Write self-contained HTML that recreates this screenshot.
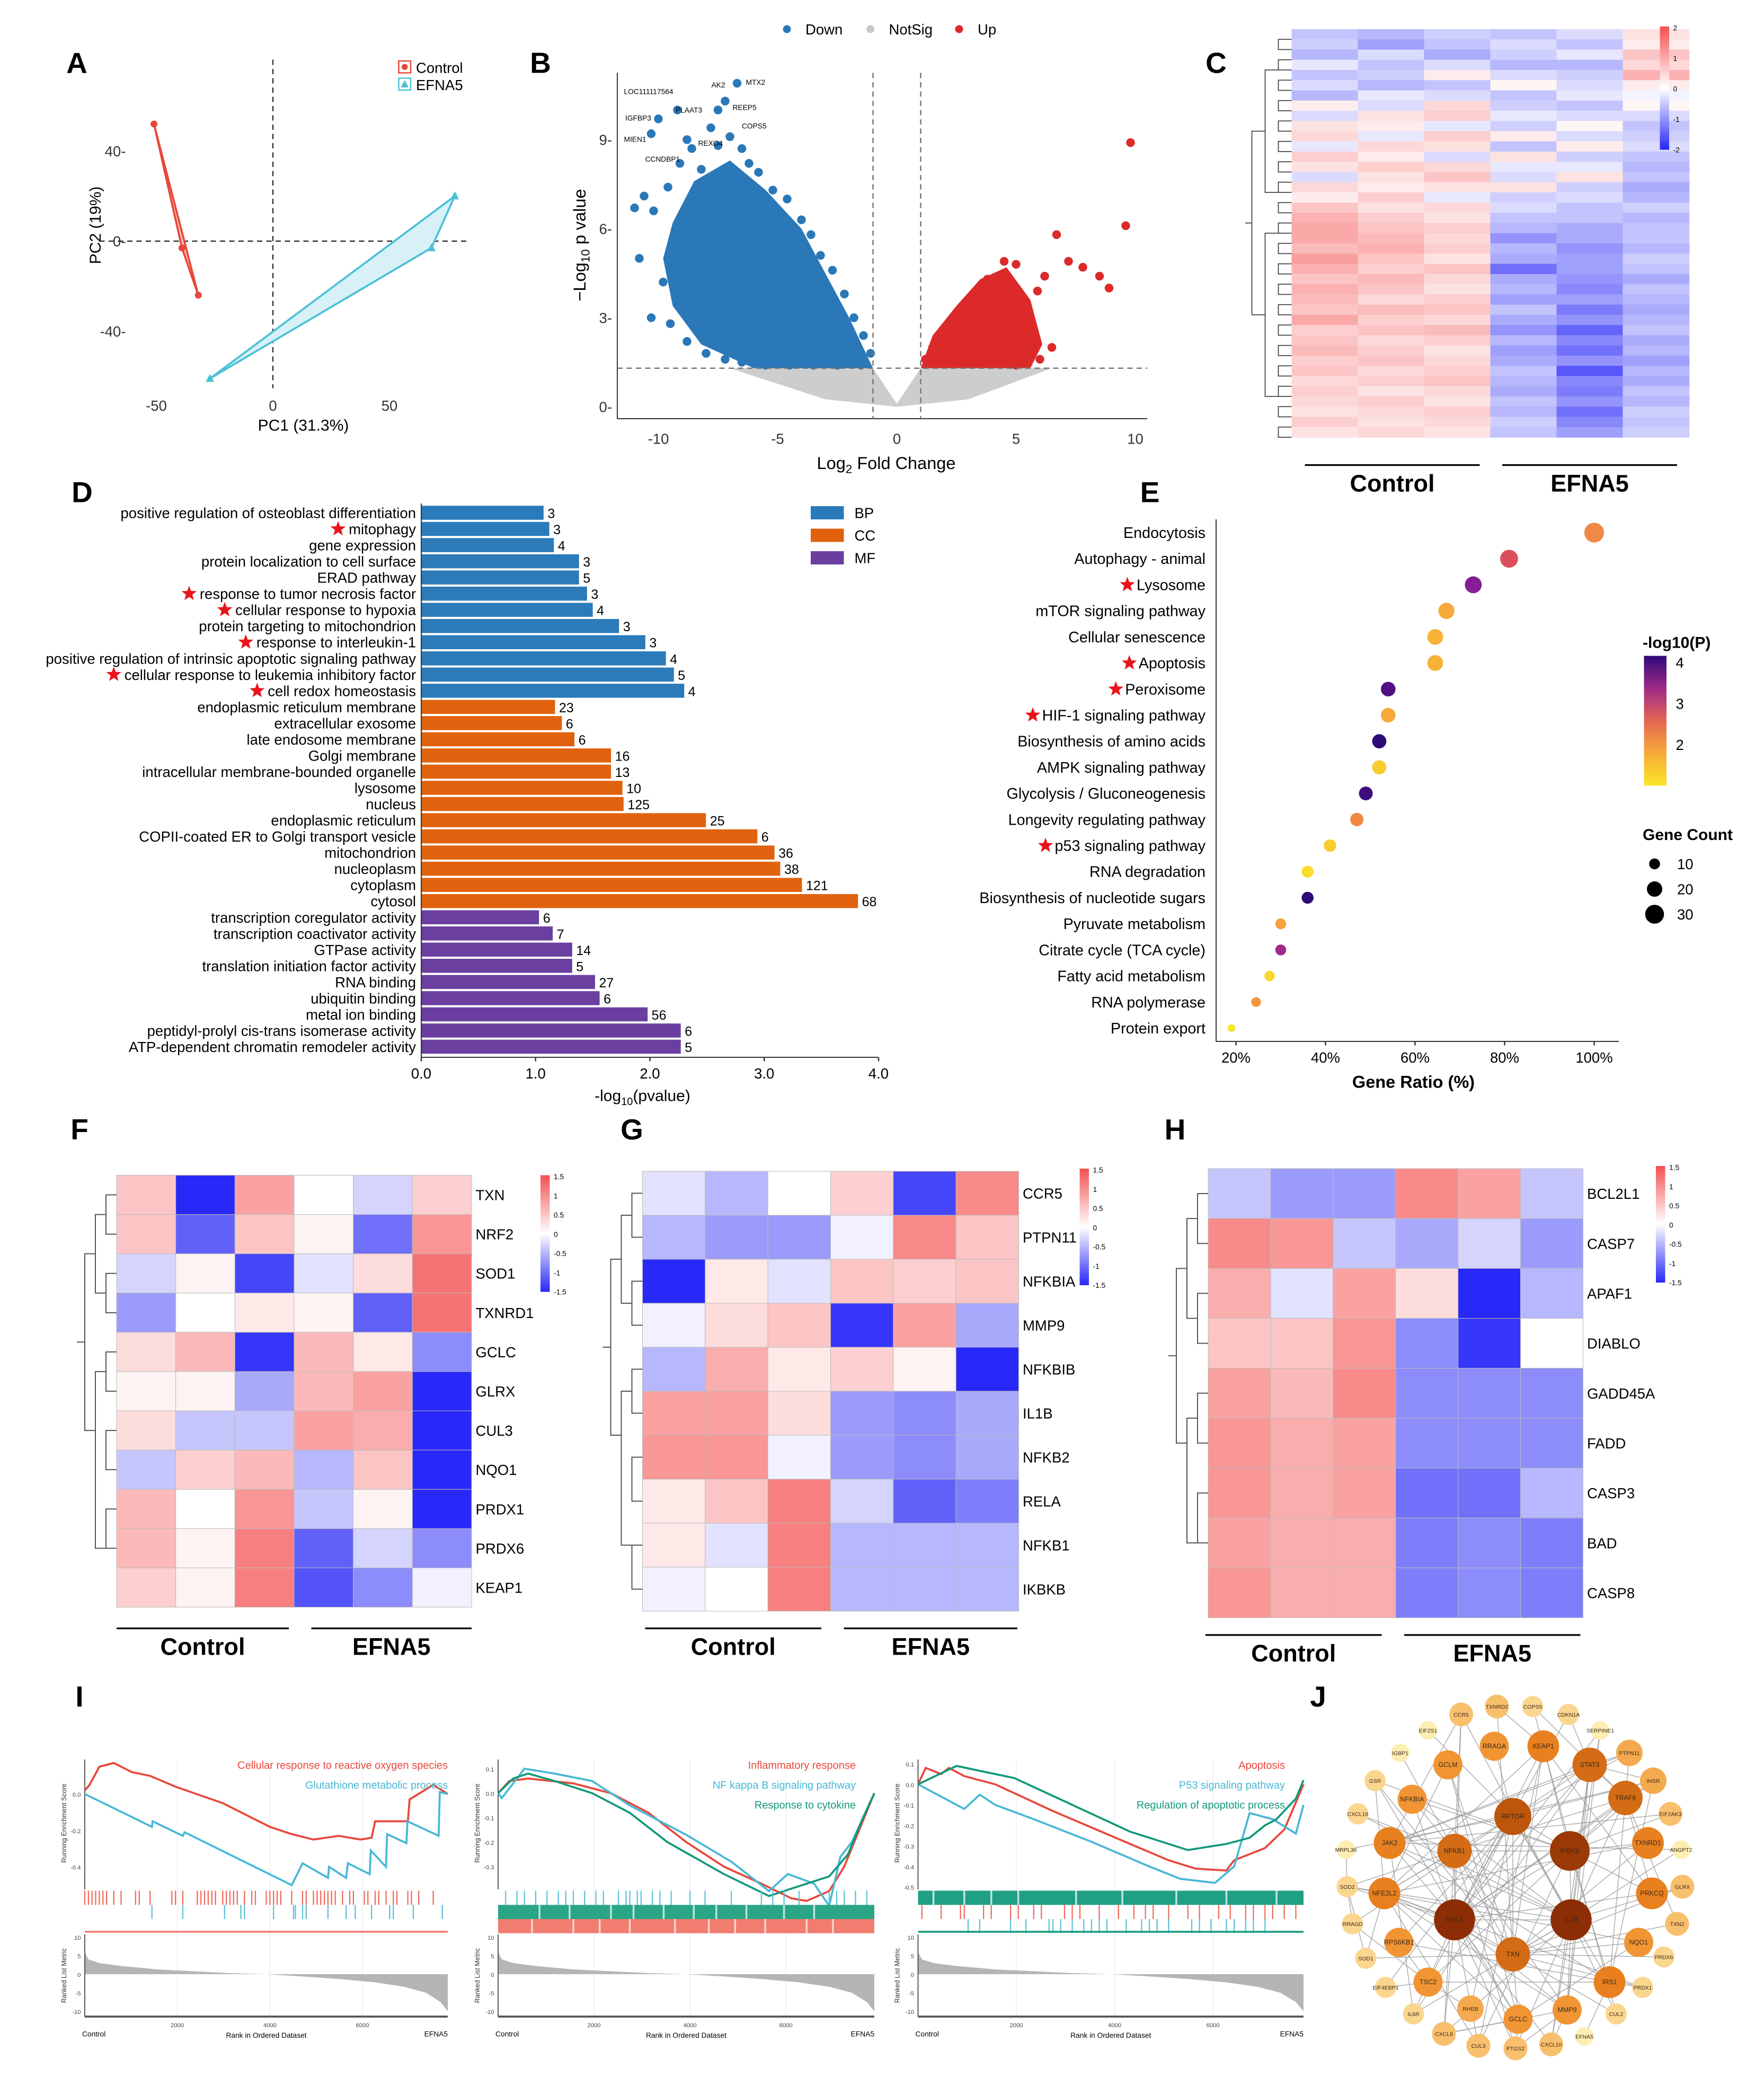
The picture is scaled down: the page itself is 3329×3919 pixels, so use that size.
<!DOCTYPE html>
<html><head><meta charset="utf-8"><title>EFNA5 figure</title>
<style>html,body{margin:0;padding:0;background:#fff}svg{display:block}text{font-family:"Liberation Sans",Arial,sans-serif}</style></head>
<body>
<svg id="fig" xmlns="http://www.w3.org/2000/svg" width="3329" height="3919" viewBox="0 0 1331.6 1567.6"></svg>
<script>
// ---------- DATA ----------
const pcaControl=[[-51,52],[-39,-3],[-32,-24]];
const pcaEfna5=[[78,20],[68,-3],[-27,-61]];
const volDown=[[-10.3,9.2],[-9.2,10],[-10,9.7],[-7.2,10.3],[-6.7,10.9],[-7.5,10.0],[-7.8,9.4],[-8.8,9.0],[-11,6.7],[-10.6,7.1],[-10.2,6.6],[-9.6,7.4],[-9.1,8.2],[-8.6,8.7],[-8.2,8.0],[-7.5,8.8],[-7.0,9.1],[-6.5,8.7],[-6.2,8.2],[-5.8,7.9],[-5.2,7.3],[-4.6,7.0],[-4.0,6.3],[-3.6,5.8],[-3.2,5.1],[-2.7,4.6],[-2.2,3.8],[-1.8,3.0],[-1.4,2.4],[-1.1,1.8],[-10.3,3.0],[-10.8,5.0],[-9.8,4.2],[-9.5,2.8],[-8.8,2.2],[-8.0,1.8],[-7.2,1.6],[-6.5,1.5],[-5.5,1.4],[-4.5,1.4],[-3.5,1.4],[-2.5,1.4],[-1.5,1.4],[-9.0,5.5],[-8.0,6.5],[-7.0,7.0],[-6.0,6.0],[-5.0,5.0],[-4.0,3.5],[-3.0,2.5],[-7.5,4.0],[-6.5,3.0],[-8.5,3.5],[-5.5,2.5]];
const volDownCloud=[[-1,1.3],[-2,3],[-3,4.5],[-4,6],[-5.5,7.3],[-7,8.3],[-8.5,7.6],[-9.4,6.2],[-9.8,5],[-9.4,3.4],[-8.2,2.1],[-6,1.3]];
const volUp=[[9.8,8.9],[9.6,6.1],[6.7,5.8],[7.8,4.7],[8.5,4.4],[8.9,4.0],[7.2,4.9],[6.2,4.4],[5.9,3.9],[5.0,4.8],[4.5,4.9],[3.8,4.3],[3.0,3.6],[2.5,3.0],[2.0,2.4],[1.5,2.0],[1.2,1.6],[6.5,2.0],[6.0,1.6],[5.5,3.0],[4.0,2.0],[3.0,1.5],[5.0,1.4]];
const volUpCloud=[[1,1.3],[1.5,2.4],[2.5,3.4],[3.5,4.3],[4.6,4.7],[5.6,3.6],[6.1,2.1],[5.6,1.3]];
const volNs=[[-7,1.3],[-1,1.3],[0,0.1],[1,1.3],[6.5,1.3],[3,0.25],[0,0],[-3,0.25]];
const volLabels=["LOC111117564","AK2","MTX2","IGFBP3","PLAAT3","REEP5","COPS5","MIEN1","REXO4","CCNDBP1"];
const heatC=[[-0.5,-0.6,-0.4,-0.5,-0.3,0.3],[-0.4,-0.8,-0.5,-0.3,-0.5,0.2],[-0.6,-0.3,-0.7,-0.4,-0.2,0.6],[-0.2,-0.5,-0.3,-0.6,-0.6,0.4],[-0.5,-0.4,0.2,-0.3,-0.4,0.8],[-0.3,-0.6,-0.5,0.1,-0.3,0.2],[-0.6,-0.2,-0.3,-0.5,-0.2,-0.1],[0.2,-0.3,0.4,-0.4,-0.5,0.1],[-0.3,0.3,0.5,-0.2,-0.3,-0.3],[0.3,0.2,-0.2,-0.4,0.1,-0.5],[0.4,-0.2,0.5,0.2,-0.3,-0.4],[-0.2,0.4,0.3,-0.5,0.2,-0.3],[0.5,0.2,-0.3,0.3,-0.4,-0.5],[0.3,0.5,0.4,-0.2,-0.2,-0.6],[-0.3,0.3,0.6,-0.3,0.3,-0.5],[0.4,0.2,0.3,0.3,-0.4,-0.7],[0.2,0.5,-0.2,-0.4,-0.3,-0.6],[0.6,0.3,0.4,-0.3,-0.5,-0.4],[0.8,0.5,0.3,-0.5,-0.5,-0.6],[0.9,0.6,0.5,-0.6,-0.7,-0.5],[0.9,0.7,0.4,-0.9,-0.7,-0.5],[0.7,0.8,0.5,-0.6,-0.9,-0.6],[1.0,0.6,0.3,-0.7,-0.8,-0.4],[0.8,0.5,0.6,-1.2,-0.8,-0.5],[0.6,0.7,0.4,-0.7,-0.9,-0.7],[0.8,0.6,0.3,-0.6,-1.0,-0.5],[0.7,0.4,0.5,-0.8,-0.8,-0.6],[0.6,0.7,0.6,-0.5,-1.1,-0.7],[0.9,0.5,0.4,-0.7,-0.9,-0.6],[0.5,0.6,0.7,-0.9,-1.3,-0.5],[0.6,0.4,0.5,-0.6,-1.0,-0.7],[0.7,0.5,0.3,-0.8,-1.2,-0.6],[0.5,0.6,0.4,-0.7,-0.9,-0.8],[0.6,0.4,0.5,-0.5,-1.4,-0.6],[0.4,0.5,0.6,-0.6,-1.0,-0.7],[0.5,0.3,0.4,-0.7,-1.1,-0.5],[0.4,0.5,0.3,-0.5,-0.9,-0.6],[0.3,0.4,0.5,-0.6,-1.2,-0.4],[0.5,0.3,0.4,-0.4,-1.0,-0.5],[0.3,0.4,0.3,-0.5,-0.8,-0.4]];
const goTerms=["positive regulation of osteoblast differentiation","mitophagy","gene expression","protein localization to cell surface","ERAD pathway","response to tumor necrosis factor","cellular response to hypoxia","protein targeting to mitochondrion","response to interleukin-1","positive regulation of intrinsic apoptotic signaling pathway","cellular response to leukemia inhibitory factor","cell redox homeostasis","endoplasmic reticulum membrane","extracellular exosome","late endosome membrane","Golgi membrane","intracellular membrane-bounded organelle","lysosome","nucleus","endoplasmic reticulum","COPII-coated ER to Golgi transport vesicle","mitochondrion","nucleoplasm","cytoplasm","cytosol","transcription coregulator activity","transcription coactivator activity","GTPase activity","translation initiation factor activity","RNA binding","ubiquitin binding","metal ion binding","peptidyl-prolyl cis-trans isomerase activity","ATP-dependent chromatin remodeler activity"];
const goValues=[1.07,1.12,1.16,1.38,1.38,1.45,1.5,1.73,1.96,2.14,2.21,2.3,1.17,1.23,1.34,1.66,1.66,1.76,1.77,2.49,2.94,3.09,3.14,3.33,3.82,1.03,1.15,1.32,1.32,1.52,1.56,1.98,2.27,2.27];
const goCounts=[3,3,4,3,5,3,4,3,3,4,5,4,23,6,6,16,13,10,125,25,6,36,38,121,68,6,7,14,5,27,6,56,6,5];
const goCategory=["BP","BP","BP","BP","BP","BP","BP","BP","BP","BP","BP","BP","CC","CC","CC","CC","CC","CC","CC","CC","CC","CC","CC","CC","CC","MF","MF","MF","MF","MF","MF","MF","MF","MF"];
const goStarred=[1,5,6,8,10,11];
const keggTerms=["Endocytosis","Autophagy - animal","Lysosome","mTOR signaling pathway","Cellular senescence","Apoptosis","Peroxisome","HIF-1 signaling pathway","Biosynthesis of amino acids","AMPK signaling pathway","Glycolysis / Gluconeogenesis","Longevity regulating pathway","p53 signaling pathway","RNA degradation","Biosynthesis of nucleotide sugars","Pyruvate metabolism","Citrate cycle (TCA cycle)","Fatty acid metabolism","RNA polymerase","Protein export"];
const keggRatio=[100,81,73,67,64.5,64.5,54,54,52,52,49,47,41,36,36,30,30,27.5,24.5,19];
const keggLogP=[2.3,2.8,3.5,2.0,1.9,1.9,3.8,2.0,4.0,1.6,3.9,2.3,1.6,1.4,4.0,2.1,3.3,1.5,2.2,1.3];
const keggCount=[33,27,24,22,21,21,18,18,17,17,16,15,13,12,12,10,10,9,8,5];
const keggStarred=[2,5,6,7,12];
const genesF=["TXN","NRF2","SOD1","TXNRD1","GCLC","GLRX","CUL3","NQO1","PRDX1","PRDX6","KEAP1"];
const heatF=[[0.5,-1.5,0.8,0,-0.3,0.4],[0.5,-1.1,0.5,0.1,-1.0,0.9],[-0.3,0.1,-1.3,-0.2,0.3,1.2],[-0.7,0,0.2,0.1,-1.1,1.2],[0.3,0.6,-1.4,0.6,0.2,-0.8],[0.1,0.1,-0.6,0.6,0.8,-1.5],[0.3,-0.4,-0.4,0.8,0.7,-1.5],[-0.4,0.4,0.6,-0.5,0.5,-1.5],[0.6,0,0.9,-0.4,0.1,-1.5],[0.6,0.1,1.1,-1.1,-0.3,-0.8],[0.4,0.1,1.1,-1.2,-0.8,-0.1]];
const genesG=["CCR5","PTPN11","NFKBIA","MMP9","NFKBIB","IL1B","NFKB2","RELA","NFKB1","IKBKB"];
const heatG=[[-0.2,-0.5,0,0.4,-1.3,1.0],[-0.5,-0.7,-0.7,-0.1,1.0,0.5],[-1.5,0.2,-0.2,0.5,0.4,0.5],[-0.1,0.3,0.5,-1.4,0.8,-0.6],[-0.5,0.7,0.2,0.4,0.1,-1.5],[0.8,0.8,0.3,-0.7,-0.8,-0.6],[0.9,0.9,-0.1,-0.7,-0.8,-0.6],[0.2,0.5,1.1,-0.3,-1.1,-0.9],[0.2,-0.2,1.1,-0.5,-0.5,-0.5],[-0.1,0,1.1,-0.5,-0.5,-0.5]];
const genesH=["BCL2L1","CASP7","APAF1","DIABLO","GADD45A","FADD","CASP3","BAD","CASP8"];
const heatH=[[-0.4,-0.7,-0.7,1.0,0.8,-0.4],[1.0,0.9,-0.4,-0.6,-0.3,-0.7],[0.7,-0.2,0.8,0.3,-1.5,-0.5],[0.5,0.5,0.9,-0.8,-1.4,0],[0.8,0.6,1.0,-0.8,-0.8,-0.8],[0.9,0.7,0.8,-0.8,-0.8,-0.8],[0.9,0.7,0.8,-1.0,-1.0,-0.5],[0.8,0.7,0.7,-0.9,-0.8,-0.9],[0.9,0.7,0.7,-0.9,-0.8,-0.9]];
// GSEA: [fraction of ranked list, running ES]
const gsea1Red=[[0,0.02],[0.013,0.05],[0.04,0.15],[0.08,0.17],[0.13,0.12],[0.18,0.1],[0.25,0.04],[0.38,-0.05],[0.51,-0.18],[0.57,-0.22],[0.63,-0.25],[0.7,-0.23],[0.76,-0.25],[0.79,-0.24],[0.8,-0.15],[0.89,-0.15],[0.895,-0.03],[0.96,0.05],[1,0.0]];
const gsea1Blue=[[0,0],[0.185,-0.18],[0.187,-0.15],[0.27,-0.23],[0.275,-0.21],[0.57,-0.5],[0.6,-0.38],[0.67,-0.46],[0.673,-0.4],[0.72,-0.46],[0.725,-0.38],[0.785,-0.44],[0.788,-0.31],[0.83,-0.4],[0.833,-0.22],[0.886,-0.27],[0.889,-0.15],[0.975,-0.23],[0.978,0.01],[1,0.0]];
const gsea2Red=[[0,0],[0.03,0.05],[0.08,0.06],[0.2,0.04],[0.3,0.0],[0.4,-0.08],[0.5,-0.2],[0.6,-0.3],[0.7,-0.37],[0.78,-0.43],[0.82,-0.44],[0.88,-0.4],[0.92,-0.3],[0.96,-0.15],[1,0.0]];
const gsea2Blue=[[0,0],[0.01,-0.02],[0.07,0.1],[0.15,0.08],[0.25,0.05],[0.35,-0.05],[0.5,-0.17],[0.62,-0.28],[0.72,-0.4],[0.77,-0.33],[0.84,-0.37],[0.88,-0.46],[0.91,-0.26],[0.94,-0.2],[1,0.0]];
const gsea2Green=[[0,0],[0.04,0.06],[0.08,0.08],[0.15,0.05],[0.25,0.0],[0.35,-0.08],[0.45,-0.2],[0.6,-0.33],[0.72,-0.42],[0.78,-0.39],[0.88,-0.34],[0.93,-0.25],[0.97,-0.1],[1,0.0]];
const gsea3Red=[[0,0],[0.02,0.08],[0.06,0.05],[0.08,0.08],[0.12,0.04],[0.2,0.0],[0.35,-0.13],[0.5,-0.25],[0.65,-0.37],[0.72,-0.41],[0.8,-0.42],[0.82,-0.37],[0.9,-0.31],[0.95,-0.22],[1,0.0]];
const gsea3Blue=[[0,0],[0.12,-0.12],[0.16,-0.05],[0.2,-0.1],[0.3,-0.17],[0.45,-0.28],[0.6,-0.4],[0.68,-0.46],[0.77,-0.48],[0.82,-0.4],[0.86,-0.14],[0.92,-0.17],[0.98,-0.24],[1,-0.1]];
const gsea3Green=[[0,0],[0.1,0.09],[0.15,0.07],[0.25,0.03],[0.4,-0.1],[0.55,-0.23],[0.7,-0.32],[0.8,-0.29],[0.86,-0.26],[0.9,-0.2],[0.93,-0.17],[0.98,-0.07],[1,0.02]];
const hits1Red=[0.0,0.01,0.02,0.03,0.04,0.05,0.06,0.08,0.1,0.14,0.15,0.18,0.24,0.25,0.27,0.31,0.32,0.33,0.34,0.35,0.36,0.38,0.39,0.4,0.41,0.42,0.44,0.46,0.47,0.5,0.51,0.52,0.53,0.54,0.57,0.6,0.61,0.63,0.64,0.65,0.66,0.67,0.68,0.69,0.71,0.73,0.74,0.77,0.78,0.8,0.81,0.83,0.85,0.86,0.89,0.9,0.92,0.96];
const hits1Blue=[0.185,0.27,0.385,0.43,0.44,0.52,0.575,0.58,0.6,0.61,0.67,0.72,0.745,0.79,0.84,0.85,0.905,0.985];
const hits2Blue=[0.02,0.05,0.07,0.1,0.13,0.16,0.18,0.2,0.23,0.26,0.28,0.32,0.34,0.35,0.37,0.38,0.41,0.43,0.46,0.51,0.55,0.62,0.7,0.73,0.76,0.8,0.88,0.9,0.92,0.95,0.98];
const gaps2Green=[0.11,0.19,0.3,0.36,0.44,0.52,0.58,0.66,0.76,0.84];
const gaps2Red=[0.09,0.2,0.27,0.35,0.47,0.56,0.63,0.71,0.82,0.89];
const gaps3Green=[0.04,0.12,0.19,0.26,0.41,0.53,0.67,0.8,0.93];
const hits3Red=[0.01,0.06,0.11,0.12,0.17,0.19,0.24,0.26,0.3,0.32,0.38,0.4,0.42,0.47,0.52,0.56,0.59,0.61,0.65,0.7,0.73,0.78,0.81,0.85,0.87,0.9,0.92,0.95,0.98];
const hits3Blue=[0.13,0.16,0.24,0.28,0.34,0.35,0.37,0.4,0.43,0.45,0.47,0.49,0.54,0.58,0.6,0.62,0.65,0.71,0.73,0.76,0.8,0.82,0.85,0.87,0.9];
const rankedMetric=[[0,6],[0.01,4],[0.04,3],[0.1,2.2],[0.2,1.3],[0.3,0.8],[0.4,0.3],[0.5,0],[0.6,-0.6],[0.7,-1.3],[0.8,-2.2],[0.88,-3.4],[0.94,-5],[0.98,-7.5],[1,-10]];
const netNodes=["CCR5","TXNRD2","COPS5","CDKN1A","SERPINE1","PTPN11","INSR","EIF2AK3","ANGPT2","GLRX","TXN2","PRDX6","PRDX1","CUL2","EFNA5","CXCL10","PTGS2","CUL3","CXCL8","IL6R","EIF4EBP1","SOD1","RRAGD","SOD2","MRPL36","CXCL16","GSR","IGBP1","EIF2S1","GCLM","RRAGA","KEAP1","STAT3","TRAF6","TXNRD1","PRKCQ","NQO1","IRS1","MMP9","GCLC","RHEB","TSC2","RPS6KB1","NFE2L2","JAK2","NFKBIA","RPTOR","NFKB1","IKBKB","RELA","IL1B","TXN"];
const netDegree=[9,9,8,8,7,10,10,9,7,9,9,8,8,8,7,9,9,9,9,8,8,8,8,8,7,8,8,7,7,11,11,12,13,13,12,12,11,12,11,11,10,11,11,12,12,11,14,13,15,15.5,15.5,13];
const netLayout=[[1103,1294],[1130,1288],[1157,1288],[1184,1294],[1208,1306],[1230,1323],[1248,1344],[1261,1369],[1269,1396],[1270,1424],[1266,1452],[1256,1477],[1240,1500],[1220,1520],[1196,1537],[1171,1543],[1144,1546],[1116,1544],[1090,1535],[1067,1520],[1046,1500],[1031,1478],[1021,1452],[1017,1424],[1016,1396],[1025,1369],[1038,1344],[1057,1323],[1078,1306],[1093,1332],[1128,1318],[1165,1318],[1200,1332],[1227,1357],[1244,1391],[1247,1429],[1237,1466],[1215,1496],[1183,1517],[1146,1524],[1110,1516],[1078,1496],[1056,1466],[1045,1429],[1049,1391],[1066,1358],[1142,1371],[1098,1397],[1185,1397],[1098,1449],[1186,1449],[1142,1475]];
const netEdges=[["RELA",["IL1B","IKBKB","NFKB1","NFKBIA","TXN","RPTOR","JAK2","NFE2L2","CCR5","CXCL8","CXCL10","PTGS2","MMP9","STAT3","TRAF6","KEAP1","SOD2","IL6R","CDKN1A","SERPINE1","PRKCQ","INSR","GCLC","CUL3"]],["IL1B",["IKBKB","NFKB1","TXN","MMP9","CXCL8","CXCL10","PTGS2","CCR5","SOD2","STAT3","TRAF6","JAK2","IL6R","SERPINE1","ANGPT2","CXCL16","GLRX","CUL2","NFKBIA","RPTOR"]],["IKBKB",["NFKB1","NFKBIA","TRAF6","PRKCQ","RPTOR","CUL3","KEAP1","EIF2AK3","TXNRD1","INSR","IRS1","TSC2","GSR"]],["RPTOR",["RRAGA","RRAGD","RHEB","TSC2","RPS6KB1","EIF4EBP1","IRS1","INSR","EIF2S1","MRPL36","STAT3","NFE2L2","TXN","PTPN11"]],["TXN",["TXNRD1","TXNRD2","TXN2","PRDX1","PRDX6","GLRX","GSR","NQO1","SOD1","NFE2L2","KEAP1","GCLC","GCLM","NFKB1","CUL2"]],["NFE2L2",["KEAP1","GCLC","GCLM","NQO1","SOD1","SOD2","GSR","TXNRD1","CUL3","PRDX1","NFKB1","MMP9"]],["JAK2",["STAT3","INSR","IRS1","PTPN11","IL6R","ANGPT2","CCR5","EIF2AK3"]],["NFKB1",["NFKBIA","CXCL8","PTGS2","MMP9","CCR5","CXCL16","TRAF6","SOD2","IGBP1"]],["STAT3",["PTPN11","IL6R","INSR","CDKN1A","MMP9","CXCL10","TRAF6"]],["KEAP1",["CUL3","CUL2","COPS5","TXNRD2","PRKCQ"]],["TSC2",["RHEB","RPS6KB1","IRS1","EIF4EBP1","RRAGD"]],["IRS1",["INSR","PTPN11","RPS6KB1","EFNA5","PRDX1"]],["GCLC",["GCLM","GSR","CXCL8","PTGS2","NQO1"]],["MMP9",["CXCL10","PTGS2","CXCL8","SERPINE1"]],["SOD2",["SOD1","MRPL36","RRAGD"]],["TRAF6",["PRKCQ","COPS5","TXN2"]]];

// ---------- HELPERS ----------
const NS="http://www.w3.org/2000/svg";
const svg=document.getElementById('fig');
function mk(tag,attrs,parent){const e=document.createElementNS(NS,tag);for(const k in attrs)e.setAttribute(k,attrs[k]);(parent||svg).appendChild(e);return e;}
function grp(name,parent){const g=mk('g',{},parent);return g;}
function tx(p,x,y,s,size,anchor,extra){const t=mk('text',Object.assign({x:x,y:y,'font-size':size,'text-anchor':anchor||'start'},extra||{}),p);t.textContent=s;return t;}
function lerp(a,b,t){return a+(b-a)*t;}
function textW(t,fallback){try{const w=t.getComputedTextLength();return w>0?w:fallback;}catch(e){return fallback;}}
function heatColor(v,m){const t=Math.max(-1,Math.min(1,v/m));if(t>=0)return `rgb(${Math.round(lerp(255,245,t))},${Math.round(lerp(255,80,t))},${Math.round(lerp(255,80,t))})`;const u=-t;return `rgb(${Math.round(lerp(255,40,u))},${Math.round(lerp(255,40,u))},${Math.round(lerp(255,248,u))})`;}
function star(p,cx,cy,r){let pts=[];for(let i=0;i<10;i++){const a=-Math.PI/2+i*Math.PI/5;const rr=i%2?r*0.42:r;pts.push((cx+rr*Math.cos(a)).toFixed(1)+','+(cy+rr*Math.sin(a)).toFixed(1));}const s=mk('polygon',{points:pts.join(' '),fill:'#e8141b'},p);return s;}
function letter(s,x,y){const t=tx(svg,x,y,s,22,'middle',{'font-weight':'bold'});}
['A',58,55,'B',408,55,'C',918,55,'D',62,379,'E',868,379,'F',60,860,'G',477,860,'H',887,860,'I',60,1288,'J',995,1288].reduce((a,v,i,arr)=>{if(i%3===0)letter(arr[i],arr[i+1],arr[i+2]);return a;},0);

// ---------- PANEL A: PCA ----------
(function(){
const g=grp('pca-plot');
const X=v=>206+v*1.76, Y=v=>182-v*1.7;
mk('line',{x1:X(0),y1:45,x2:X(0),y2:293,stroke:'#333','stroke-dasharray':'4,3','stroke-width':1},g);
mk('line',{x1:75,y1:Y(0),x2:355,y2:Y(0),stroke:'#333','stroke-dasharray':'4,3','stroke-width':1},g);
[40,0,-40].forEach(v=>{tx(g,95,Y(v)+4,v+'-',11,'end',{fill:'#333'});});
[-50,0,50].forEach(v=>{tx(g,X(v),310,v,11,'middle',{fill:'#333'});});
const xt=tx(g,229,325,'PC1 (31.3%)',12,'middle');
const yt=tx(g,0,0,'PC2 (19%)',12,'middle',{transform:'translate(76,170) rotate(-90)'});
const pc=mk('polygon',{points:pcaControl.map(p=>X(p[0])+','+Y(p[1])).join(' '),fill:'#f6c3bd',stroke:'#e8473b','stroke-width':1.5},g);

const pe=mk('polygon',{points:pcaEfna5.map(p=>X(p[0])+','+Y(p[1])).join(' '),fill:'#d7f1f7',stroke:'#4cc0d8','stroke-width':1.5},g);

pcaControl.forEach(p=>{const c=mk('circle',{cx:X(p[0]),cy:Y(p[1]),r:2.6,fill:'#e8473b'},g);});
pcaEfna5.forEach(p=>{const c=mk('polygon',{points:`${X(p[0])},${Y(p[1])-3.5} ${X(p[0])-3.2},${Y(p[1])+2.5} ${X(p[0])+3.2},${Y(p[1])+2.5}`,fill:'#4cc0d8'},g);});
const lg=grp('pca-legend',g);
mk('rect',{x:301,y:46,width:9,height:9,fill:'none',stroke:'#e8473b'},lg);mk('circle',{cx:305.5,cy:50.5,r:2.3,fill:'#e8473b'},lg);
mk('rect',{x:301,y:59,width:9,height:9,fill:'none',stroke:'#4cc0d8'},lg);mk('polygon',{points:'305.5,60.5 302.5,66 308.5,66',fill:'#4cc0d8'},lg);
tx(lg,314,55,'Control',11,'start');tx(lg,314,68,'EFNA5',11,'start');
})();

// ---------- PANEL B: Volcano ----------
(function(){
const g=grp('volcano-plot');
const X=v=>677+v*18, Y=v=>307-v*22.4;
const lg=grp('volcano-legend',g);
[['Down','#2a78b8',594],['NotSig','#c8c8c8',657],['Up','#dc2a2a',724]].forEach(d=>{mk('circle',{cx:d[2],cy:22,r:3,fill:d[1]},lg);tx(lg,d[2]+14,26,d[0],11,'start');});
mk('line',{x1:466,y1:55,x2:466,y2:316,stroke:'#333','stroke-width':0.8},g);
mk('line',{x1:466,y1:316,x2:866,y2:316,stroke:'#333','stroke-width':0.8},g);
mk('polygon',{points:volNs.map(p=>X(p[0])+','+Y(p[1])).join(' '),fill:'#cdcdcd'},g);
mk('polygon',{points:volDownCloud.map(p=>X(p[0])+','+Y(p[1])).join(' '),fill:'#2a78b8'},g);
mk('polygon',{points:volUpCloud.map(p=>X(p[0])+','+Y(p[1])).join(' '),fill:'#dc2a2a'},g);
volDown.forEach(p=>{const c=mk('circle',{cx:X(p[0]),cy:Y(p[1]),r:3.3,fill:'#2a78b8'},g);});
volUp.forEach(p=>{const c=mk('circle',{cx:X(p[0]),cy:Y(p[1]),r:3.3,fill:'#dc2a2a'},g);});
mk('line',{x1:X(-1),y1:55,x2:X(-1),y2:316,stroke:'#777','stroke-dasharray':'4,3'},g);
mk('line',{x1:X(1),y1:55,x2:X(1),y2:316,stroke:'#777','stroke-dasharray':'4,3'},g);
mk('line',{x1:466,y1:Y(1.3),x2:866,y2:Y(1.3),stroke:'#777','stroke-dasharray':'4,3'},g);
[0,3,6,9].forEach(v=>tx(g,462,Y(v)+4,v+'-',11,'end',{fill:'#333'}));
[-10,-5,0,5,10].forEach(v=>tx(g,X(v),335,v,11,'middle',{fill:'#333'}));
const xt=tx(g,669,354,'Log',13,'middle');const s1=mk('tspan',{'font-size':9,dy:3},xt);s1.textContent='2';const s2=mk('tspan',{dy:-3},xt);s2.textContent=' Fold Change';

const yt=tx(g,0,0,'−Log',13,'middle',{transform:'translate(442,185) rotate(-90)'});const s3=mk('tspan',{'font-size':9,dy:3},yt);s3.textContent='10';const s4=mk('tspan',{dy:-3},yt);s4.textContent=' p value';

const lp=[[471,71],[537,66],[563,64],[472,91],[510,85],[553,83],[560,97],[471,107],[527,110],[487,122]];
volLabels.forEach((s,i)=>{const t=tx(g,lp[i][0],lp[i][1],s,5.5,'start');});
})();

// ---------- PANEL C: heatmap ----------
(function(){
const g=grp('deg-heatmap');
const x0=975,y0=22,cw=50,rh=(330-22)/heatC.length;
heatC.forEach((row,i)=>row.forEach((v,j)=>{const r=mk('rect',{x:x0+j*cw,y:y0+i*rh,width:cw+0.3,height:rh+0.3,fill:heatColor(v,1.8)},g);}));
const d=grp('row-dendrogram',g);
let path='';for(let i=0;i<heatC.length;i+=2){const y=y0+(i+1)*rh;path+=`M975,${y}H965V${y+rh}H975 `;}
path+=`M965,${y0+rh*4}H955V${y0+rh*16}H965 M965,${y0+rh*20}H955V${y0+rh*36}H965 M955,${y0+rh*10}H945V${y0+rh*28}H955 M945,${y0+rh*19}H940`;
mk('path',{d:path,fill:'none',stroke:'#444','stroke-width':0.7},d);
const sc=grp('color-scale',g);
const lgd=mk('linearGradient',{id:'gc',x1:0,y1:0,x2:0,y2:1},svg);
[[0,heatColor(2,2)],[0.5,'#fff'],[1,heatColor(-2,2)]].forEach(s=>mk('stop',{offset:s[0],'stop-color':s[1]},lgd));
mk('rect',{x:1253,y:20,width:7,height:93,fill:'url(#gc)'},sc);
['2','1','0','-1','-2'].forEach((s,i)=>tx(sc,1263,23+i*23,s,5.5,'start'));
[['Control',985,1117],['EFNA5',1134,1266]].forEach(a=>{mk('line',{x1:a[1],y1:351,x2:a[2],y2:351,stroke:'#000','stroke-width':1.3},g);const t=tx(g,(a[1]+a[2])/2,371,a[0],18,'middle',{'font-weight':'bold'});});
})();

// ---------- PANEL D: GO bars ----------
(function(){
const g=grp('go-bar-chart');
const X=v=>318+v*86.3, y0=387, step=(790-387)/(goTerms.length-1);
const colors={BP:'#2b7bba',CC:'#e0620e',MF:'#6b3fa0'};
const labels=[];
goTerms.forEach((s,i)=>{const y=y0+i*step;
const b=mk('rect',{x:318,y:y-5.3,width:X(goValues[i])-318,height:10.6,fill:colors[goCategory[i]]},g);
labels.push(tx(g,314,y+4,s,11,'end'));tx(g,X(goValues[i])+3,y+4,goCounts[i],10,'start');});
goStarred.forEach(i=>{const y=y0+i*step;const w=textW(labels[i],goTerms[i].length*5.2);star(g,314-w-8,y,6);});
mk('line',{x1:318,y1:380,x2:318,y2:798,stroke:'#333','stroke-width':0.8},g);
mk('line',{x1:318,y1:798,x2:663,y2:798,stroke:'#333','stroke-width':0.8},g);
['0.0','1.0','2.0','3.0','4.0'].forEach((s,i)=>{mk('line',{x1:X(i),y1:798,x2:X(i),y2:801,stroke:'#333'},g);tx(g,X(i),814,s,11,'middle');});
const xt=tx(g,485,831,'-log',12,'middle');const s1=mk('tspan',{'font-size':8,dy:3},xt);s1.textContent='10';const s2=mk('tspan',{dy:-3},xt);s2.textContent='(pvalue)';

const lg=grp('go-legend',g);
[['BP',387],['CC',404],['MF',421]].forEach(a=>{mk('rect',{x:612,y:a[1]-5,width:25,height:10,fill:colors[a[0]]},lg);tx(lg,645,a[1]+4,a[0],11,'start');});
})();

// ---------- PANEL E: KEGG dots ----------
(function(){
const g=grp('kegg-dot-plot');
const X=v=>933+(v-20)*3.38, y0=402, step=(776-402)/(keggTerms.length-1);
function pcol(v){const t=Math.max(0,Math.min(1,(v-1.3)/2.7));const stops=[[0,[250,230,40]],[0.3,[246,160,60]],[0.55,[220,80,90]],[0.8,[140,30,150]],[1,[45,10,120]]];for(let k=1;k<stops.length;k++){if(t<=stops[k][0]){const a=stops[k-1],b=stops[k],u=(t-a[0])/(b[0]-a[0]);return `rgb(${a[1].map((c,ci)=>Math.round(lerp(c,b[1][ci],u))).join(',')})`;}}return 'rgb(45,10,120)';}
mk('line',{x1:918,y1:392,x2:918,y2:786,stroke:'#333','stroke-width':0.8},g);
mk('line',{x1:918,y1:786,x2:1222,y2:786,stroke:'#333','stroke-width':0.8},g);
const labels=[];
keggTerms.forEach((s,i)=>{const y=y0+i*step;labels.push(tx(g,910,y+4,s,11.5,'end'));
const c=mk('circle',{cx:X(keggRatio[i]),cy:y,r:Math.sqrt(keggCount[i])*1.3,fill:pcol(keggLogP[i])},g);});
keggStarred.forEach(i=>{const y=y0+i*step;const w=textW(labels[i],keggTerms[i].length*5.5);star(g,910-w-7,y,6);});
[20,40,60,80,100].forEach(v=>{mk('line',{x1:X(v),y1:786,x2:X(v),y2:789,stroke:'#333'},g);tx(g,X(v),802,v+'%',11,'middle');});
const xt=tx(g,1067,821,'Gene Ratio (%)',13,'middle',{'font-weight':'bold'});
const lg=grp('pvalue-legend',g);
tx(lg,1240,489,'-log10(P)',12,'start',{'font-weight':'bold'});
const gr=mk('linearGradient',{id:'gp',x1:0,y1:0,x2:0,y2:1},svg);
[[0,pcol(4)],[0.25,pcol(3.3)],[0.5,pcol(2.6)],[0.75,pcol(2)],[1,pcol(1.3)]].forEach(s=>mk('stop',{offset:s[0],'stop-color':s[1]},gr));
mk('rect',{x:1241,y:495,width:17,height:98,fill:'url(#gp)'},lg);
[['4',500],['3',531],['2',562]].forEach(a=>tx(lg,1265,a[1]+4,a[0],11,'start'));
const lc=grp('count-legend',g);
tx(lc,1240,634,'Gene Count',12,'start',{'font-weight':'bold'});
[[10,652],[20,671],[30,690]].forEach(a=>{mk('circle',{cx:1249,cy:a[1],r:Math.sqrt(a[0])*1.3,fill:'#000'},lc);tx(lc,1266,a[1]+4,a[0],11,'start');});
})();

// ---------- PANELS F/G/H heatmaps ----------
function smallHeat(name,genes,data,x0,y0,w,h,scaleX,scaleY,lines,labY){
const g=grp(name);const cw=w/6,rh=h/genes.length;
data.forEach((row,i)=>row.forEach((v,j)=>{const r=mk('rect',{x:x0+j*cw,y:y0+i*rh,width:cw,height:rh,fill:heatColor(v,1.5),stroke:'#bbb','stroke-width':0.4},g);}));
genes.forEach((s,i)=>{const t=tx(g,x0+w+3,y0+(i+0.5)*rh+4,s,11,'start');});
let p='';for(let i=0;i<genes.length-1;i+=2){const a=y0+(i+0.5)*rh,b=y0+(i+1.5)*rh;p+=`M${x0},${a}H${x0-8}V${b}H${x0} `;}
const n=genes.length;p+=`M${x0-8},${y0+rh}H${x0-16}V${y0+rh*3}H${x0-8} M${x0-8},${y0+rh*5}H${x0-16}V${y0+rh*(n-1.5)}H${x0-8} M${x0-16},${y0+rh*2}H${x0-24}V${y0+rh*(n/2+1)}H${x0-16} M${x0-24},${y0+rh*(n/4+1.5)}H${x0-30}`;
mk('path',{d:p,fill:'none',stroke:'#555','stroke-width':0.8},g);
const sc=grp('color-scale',g);
mk('rect',{x:scaleX,y:scaleY,width:7,height:88,fill:'url(#gs)'},sc);
['1.5','1','0.5','0','-0.5','-1','-1.5'].forEach((s,i)=>tx(sc,scaleX+10,scaleY+3+i*14.5,s,5.5,'start'));
lines.forEach(a=>{mk('line',{x1:a[1],y1:labY-20,x2:a[2],y2:labY-20,stroke:'#000','stroke-width':1.3},g);const t=tx(g,(a[1]+a[2])/2,labY,a[0],18,'middle',{'font-weight':'bold'});});
}
(function(){const gr=mk('linearGradient',{id:'gs',x1:0,y1:0,x2:0,y2:1},svg);[[0,heatColor(1.5,1.5)],[0.5,'#fff'],[1,heatColor(-1.5,1.5)]].forEach(s=>mk('stop',{offset:s[0],'stop-color':s[1]},gr));})();
smallHeat('oxidative-stress-heatmap',genesF,heatF,88,887,268,326,408,887,[['Control',88,218],['EFNA5',235,356]],1249);
smallHeat('nfkb-heatmap',genesG,heatG,485,884,284,332,815,882,[['Control',487,620],['EFNA5',637,768]],1249);
smallHeat('apoptosis-heatmap',genesH,heatH,912,882,283,339,1250,880,[['Control',910,1043],['EFNA5',1060,1193]],1254);

// ---------- PANEL I: GSEA ----------
function gsea(name,x0,x1,yTop,yZero,perUnit,ticks,curves,hitRows,labels){
const g=grp(name);const X=f=>x0+f*(x1-x0),Y=v=>yZero-v*perUnit;
for(let k=1;k<4;k++)mk('line',{x1:X(k*0.255),y1:1328,x2:X(k*0.255),y2:1522,stroke:'#eee','stroke-width':0.6},g);
mk('line',{x1:x0,y1:1328,x2:x0,y2:1426,stroke:'#444','stroke-width':0.7},g);
ticks.forEach(v=>tx(g,x0-3,Y(v)+2,v.toFixed(1),4.5,'end',{fill:'#444'}));
tx(g,0,0,'Running Enrichment Score',5,'middle',{transform:`translate(${x0-14},1376) rotate(-90)`,fill:'#333'});
curves.forEach(c=>{const p=mk('polyline',{points:c[0].map(q=>X(q[0]).toFixed(1)+','+Y(q[1]).toFixed(1)).join(' '),fill:'none',stroke:c[1],'stroke-width':1.5},g);});
labels.forEach((l,i)=>tx(g,l[2]||x1,1335+i*15,l[0],8,'end',{fill:l[1]}));
hitRows.forEach((r,i)=>{const ya=1427+i*10.7,yb=ya+10.7;if(r[2])mk('rect',{x:x0,y:ya,width:x1-x0,height:10.7,fill:r[2]},g);
r[0].forEach(f=>{const l=mk('line',{x1:X(f),y1:ya,x2:X(f),y2:yb,stroke:r[1],'stroke-width':r[2]?1.4:0.9},g);});});
const mY=v=>1490-v*2.8;
const pts=[[x0,mY(0)]].concat(rankedMetric.map(q=>[X(q[0]),mY(q[1])])).concat([[x1,mY(0)]]);
const m=mk('polygon',{points:pts.map(p=>p[0].toFixed(1)+','+p[1].toFixed(1)).join(' '),fill:'#b5b5b5'},g);
mk('line',{x1:x0,y1:1460,x2:x0,y2:1522,stroke:'#444','stroke-width':0.7},g);
mk('line',{x1:x0,y1:1522,x2:x1,y2:1522,stroke:'#555','stroke-width':1.5},g);
[10,5,0,-5,-10].forEach(v=>tx(g,x0-3,mY(v)+2,v,4.5,'end',{fill:'#444'}));
tx(g,0,0,'Ranked List Metric',5,'middle',{transform:`translate(${x0-14},1491) rotate(-90)`,fill:'#333'});
[['2000',0.255],['4000',0.51],['6000',0.765]].forEach(a=>tx(g,X(a[1]),1530,a[0],4.5,'middle',{fill:'#444'}));
tx(g,x0-2,1537,'Control',5.5,'start');tx(g,(x0+x1)/2,1538,'Rank in Ordered Dataset',5.5,'middle');tx(g,x1,1537,'EFNA5',5.5,'end');
}
gsea('gsea-ros',64,338,1328,1354,137.5,[0,-0.2,-0.4],[[gsea1Red,'#e8473b'],[gsea1Blue,'#48b8d6']],[[hits1Red,'#ef6a5a',null],[hits1Blue,'#5bc0db',null]],[['Cellular response to reactive oxygen species','#e8473b'],['Glutathione metabolic process','#48b8d6']]);
(function(){const g=svg.lastChild;mk('line',{x1:64,y1:1458,x2:338,y2:1458,stroke:'#ef6a5a','stroke-width':1.2},g);})();
gsea('gsea-inflammation',376,660,1328,1353.4,184.7,[0.1,0,-0.1,-0.2,-0.3],[[gsea2Red,'#e8473b'],[gsea2Blue,'#48b8d6'],[gsea2Green,'#12997a']],[[hits2Blue,'#5bc0db',null],[gaps2Green,'#bfe6dc','#2aa586'],[gaps2Red,'#fbd3cd','#f07d6f']],[['Inflammatory response','#e8473b',646],['NF kappa B signaling pathway','#48b8d6',646],['Response to cytokine','#12997a',646]]);
gsea('gsea-apoptosis',693,984,1328,1346.7,155,[0.1,0,-0.1,-0.2,-0.3,-0.4,-0.5],[[gsea3Red,'#e8473b'],[gsea3Blue,'#48b8d6'],[gsea3Green,'#12997a']],[[gaps3Green,'#bfe6dc','#1fa083'],[hits3Red,'#ef6a5a',null],[hits3Blue,'#5bc0db',null]],[['Apoptosis','#e8473b',970],['P53 signaling pathway','#48b8d6',970],['Regulation of apoptotic process','#12997a',970]]);
(function(){const g=svg.lastChild;mk('line',{x1:693,y1:1458,x2:984,y2:1458,stroke:'#1fa083','stroke-width':1.5},g);})();

// ---------- PANEL J: network ----------
(function(){
const g=grp('ppi-network');
const idx={};netNodes.forEach((n,i)=>idx[n]=i);
const eg=grp('network-edges',g);
netEdges.forEach(e=>e[1].forEach(t=>{const a=netLayout[idx[e[0]]],b=netLayout[idx[t]];const l=mk('line',{x1:a[0],y1:a[1],x2:b[0],y2:b[1],stroke:'#9a9a9a','stroke-width':0.6,'stroke-opacity':0.8},eg);}));
function ncol(r){const t=Math.max(0,Math.min(1,(r-7)/8.5));const s=[[0,[253,238,178]],[0.3,[247,178,90]],[0.55,[238,135,35]],[0.8,[196,90,12]],[1,[140,45,5]]];for(let k=1;k<s.length;k++){if(t<=s[k][0]){const a=s[k-1],b=s[k],u=(t-a[0])/(b[0]-a[0]);return `rgb(${a[1].map((c,ci)=>Math.round(lerp(c,b[1][ci],u))).join(',')})`;}}return 'rgb(140,45,5)';}
netNodes.forEach((n,i)=>{const p=netLayout[i],r=netDegree[i];
const c=mk('circle',{cx:p[0],cy:p[1],r:r,fill:ncol(r)},g);
tx(g,p[0],p[1]+1.6,n,r>10?5:4.2,'middle',{fill:'#3a2a1a'});});
})();
</script>
</body></html>
